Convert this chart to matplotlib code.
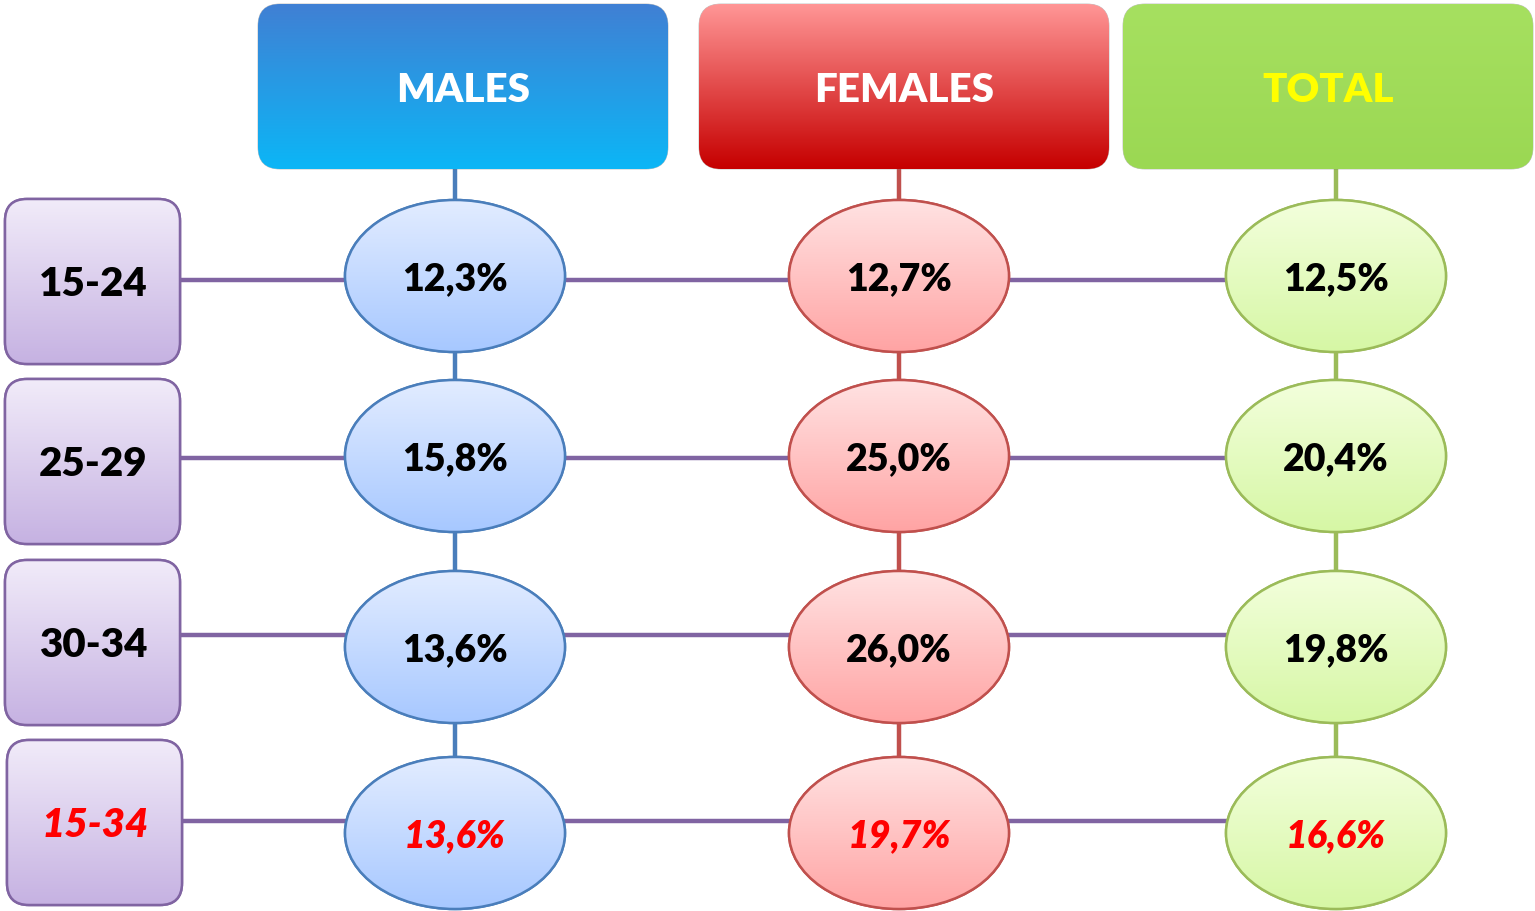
import matplotlib.pyplot as plt
import numpy as np
from matplotlib.patches import FancyBboxPatch, Ellipse
from matplotlib.colors import to_rgb

plt.rcParams['font.family'] = ['Lato', 'DejaVu Sans']

# data
age_groups = ['15-24', '25-29', '30-34', '15-34']
males = [12.3, 15.8, 13.6, 13.6]
females = [12.7, 25.0, 26.0, 19.7]
total = [12.5, 20.4, 19.8, 16.6]
headers = ['MALES', 'FEMALES', 'TOTAL']

# layout in pixels
W, H = 1535, 912
col_x = [455, 899, 1336]
head_x0 = [258, 699, 1123]
head_w = 410
row_box_y0 = [200, 380, 561, 741]
row_box_h = 165
ell_y = [277, 457, 648, 834]
line_y = [281, 459, 636, 822]
ell_w, ell_h = 220, 152

head_cols = [('#4080d4', '#0cb6f6'), ('#ff9595', '#c60000'), ('#a6e060', '#9bd853')]
head_text = ['white', 'white', '#ffff00']
ell_cols = [('#e2ecff', '#a7c8ff'), ('#ffe2e2', '#ffa4a4'), ('#f3ffdc', '#d6f7a5')]
ell_edge = ['#4a7ebb', '#c0504d', '#9bbb59']
purple = '#8064a2'
weight = 'heavy'


def gradient(ax, patch, x0, x1, y0, y1, c_top, c_bot):
    t = np.linspace(0, 1, 64)[:, None]
    a, b = np.array(to_rgb(c_top)), np.array(to_rgb(c_bot))
    img = (a * (1 - t) + b * t)[:, None, :]
    im = ax.imshow(img, extent=(x0, x1, y1, y0), origin='upper', aspect='auto',
                   interpolation='bilinear', zorder=patch.get_zorder())
    im.set_clip_path(patch)


fig = plt.figure(figsize=(W / 100, H / 100), dpi=100)
ax = fig.add_axes([0, 0, 1, 1])
ax.axis('off')

# horizontal connectors
for y in line_y:
    ax.plot([180, col_x[2]], [y, y], color=purple, lw=3.2, zorder=1, solid_capstyle='butt')

# vertical connectors
for i, x in enumerate(col_x):
    ax.plot([x, x], [170, ell_y[-1]], color=ell_edge[i], lw=3.2, zorder=1)

# header boxes
for i, name in enumerate(headers):
    x0 = head_x0[i]
    p = FancyBboxPatch((x0, 5), head_w, 165, boxstyle='round,pad=0,rounding_size=22',
                       fc='none', ec='#7a7a7a', lw=0.6, alpha=0.5, zorder=3)
    ax.add_patch(p)
    gradient(ax, p, x0, x0 + head_w, 5, 170, *head_cols[i])
    ax.text(x0 + head_w / 2, 90, name, color=head_text[i], fontsize=29,
            fontweight=weight, ha='center', va='center', zorder=5)

# age group boxes
for r, lab in enumerate(age_groups):
    y0 = row_box_y0[r]
    x0 = 5 if r < 3 else 7
    p = FancyBboxPatch((x0, y0), 175, row_box_h, boxstyle='round,pad=0,rounding_size=22',
                       fc='none', ec=purple, lw=1.8, zorder=3)
    ax.add_patch(p)
    gradient(ax, p, x0, x0 + 175, y0, y0 + row_box_h, '#f1ebf9', '#c6b2e2')
    p2 = FancyBboxPatch((x0, y0), 175, row_box_h, boxstyle='round,pad=0,rounding_size=22',
                        fc='none', ec=purple, lw=1.8, zorder=4)
    ax.add_patch(p2)
    last = r == len(age_groups) - 1
    ax.text(x0 + 88, y0 + row_box_h / 2 + 2, lab, fontsize=29, fontweight=weight,
            fontstyle='italic' if last else 'normal',
            color='#ff0000' if last else 'black', ha='center', va='center', zorder=5)

# value ellipses
for c, vals in enumerate([males, females, total]):
    for r, v in enumerate(vals):
        cx, cy = col_x[c], ell_y[r]
        e = Ellipse((cx, cy), ell_w, ell_h, fc='none', ec=ell_edge[c], lw=1.8, zorder=3)
        ax.add_patch(e)
        gradient(ax, e, cx - ell_w / 2, cx + ell_w / 2, cy - ell_h / 2, cy + ell_h / 2, *ell_cols[c])
        e2 = Ellipse((cx, cy), ell_w, ell_h, fc='none', ec=ell_edge[c], lw=1.8, zorder=4)
        ax.add_patch(e2)
        last = r == len(vals) - 1
        ax.text(cx, cy + 2, f'{v:.1f}%'.replace('.', ','), fontsize=27, fontweight=weight,
                fontstyle='italic' if last else 'normal',
                color='#ff0000' if last else 'black', ha='center', va='center', zorder=5)

ax.set_xlim(0, W)
ax.set_ylim(H, 0)
fig.savefig('out.png', dpi=100)
